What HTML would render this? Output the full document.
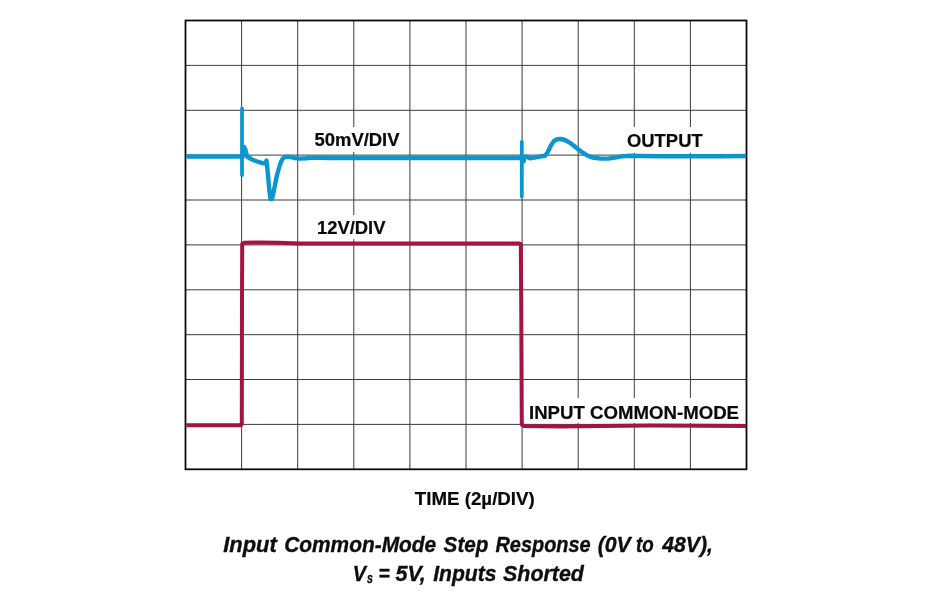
<!DOCTYPE html>
<html lang="en">
<head>
<meta charset="utf-8">
<title>Input Common-Mode Step Response</title>
<style>
html,body{margin:0;padding:0;background:#fff;}
body{width:950px;height:599px;overflow:hidden;position:relative;font-family:"Liberation Sans",sans-serif;}
svg{position:absolute;left:0;top:0;display:block;}
.lbl{font-family:"Liberation Sans",sans-serif;font-weight:bold;font-size:18.4px;fill:#0a0a0a;stroke:#0a0a0a;stroke-width:0.2px;}
.cap{font-family:"Liberation Sans",sans-serif;font-weight:bold;font-style:italic;font-size:21.6px;fill:#0e0e0e;stroke:#0e0e0e;stroke-width:0.35px;}
</style>
</head>
<body>
<svg width="950" height="599" viewBox="0 0 950 599">
<rect x="0" y="0" width="950" height="599" fill="#ffffff"/>
<g stroke="#3c3c3c" stroke-width="1" fill="none">
<line x1="241.6" y1="20.5" x2="241.6" y2="469.3"/>
<line x1="297.7" y1="20.5" x2="297.7" y2="469.3"/>
<line x1="353.8" y1="20.5" x2="353.8" y2="469.3"/>
<line x1="409.9" y1="20.5" x2="409.9" y2="469.3"/>
<line x1="466.0" y1="20.5" x2="466.0" y2="469.3"/>
<line x1="522.1" y1="20.5" x2="522.1" y2="469.3"/>
<line x1="578.2" y1="20.5" x2="578.2" y2="469.3"/>
<line x1="634.3" y1="20.5" x2="634.3" y2="469.3"/>
<line x1="690.4" y1="20.5" x2="690.4" y2="469.3"/>
<line x1="185.5" y1="65.4" x2="746.5" y2="65.4"/>
<line x1="185.5" y1="110.3" x2="746.5" y2="110.3"/>
<line x1="185.5" y1="155.1" x2="746.5" y2="155.1"/>
<line x1="185.5" y1="200.0" x2="746.5" y2="200.0"/>
<line x1="185.5" y1="244.9" x2="746.5" y2="244.9"/>
<line x1="185.5" y1="289.8" x2="746.5" y2="289.8"/>
<line x1="185.5" y1="334.7" x2="746.5" y2="334.7"/>
<line x1="185.5" y1="379.5" x2="746.5" y2="379.5"/>
<line x1="185.5" y1="424.4" x2="746.5" y2="424.4"/>
</g>
<!-- white label backings -->
<g fill="#ffffff">
<rect x="309" y="127" width="96" height="25"/>
<rect x="311" y="215" width="80" height="24"/>
<rect x="621" y="127" width="88" height="26"/>
<rect x="525" y="398" width="219" height="25"/>
</g>
<rect x="185.5" y="20.5" width="561.0" height="448.8" fill="none" stroke="#0c0c0c" stroke-width="1.8"/>
<!-- output trace -->
<g fill="none" stroke="#0c96cf" stroke-linejoin="round" stroke-linecap="butt">
<path d="M186.5,156.5 L241,156.5 L243,156 L244,147 L245.5,150 L247,156.5 L252,159.5 L258,161.8 L263,163.2 L265.5,163.5 L266.5,160.5 L267.5,170 L269.5,192 L270.5,199 L272,199 L274,190 L277,175 L280,164.5 L282.5,158.8 L285,157 L289,156.6 L294,158 L300,158.6 L306,158.3 L312,157.6 L330,158 L420,158 L500,158 L520,158 L523,158 L526,156.5 L530,158.3 L536,157.3 L541,156.3 L545,155.8 L547.5,152.5 L551,145.3 L554,141 L557,139.2 L561,139 L565,140 L570,142.8 L576,147.5 L582,152.2 L588,155.8 L594,157.8 L601,158.6 L608,158.6 L615,157.6 L622,156.4 L630,155.8 L640,156 L660,156.3 L690,156.3 L720,156.2 L746,156" stroke-width="4.4"/>
<path d="M242,108.5 L242,175" stroke-width="3.8" stroke-linecap="round"/>
<ellipse cx="523" cy="159.3" rx="2.2" ry="3.4" fill="#0c96cf" stroke-width="2"/>
<path d="M521.8,142 L521.8,196.5" stroke-width="3.8" stroke-linecap="round"/>
</g>
<!-- input common-mode trace -->
<path d="M186.5,425.3 L241,425.3 L241.8,424 L242,300 L242.2,244 L244,242.8 L260,242.5 L278,242.8 L300,243.4 L400,243.4 L519,243.5 L520.8,244 L521.2,300 L521.8,424.5 L524,426 L560,426.4 L600,426 L650,425.6 L700,425.8 L746,426" fill="none" stroke="#a51343" stroke-width="4" stroke-linejoin="round"/>
<text class="lbl" x="314.5" y="145.6" textLength="85" lengthAdjust="spacingAndGlyphs">50mV/DIV</text>
<text class="lbl" x="317" y="233.6" textLength="68.5" lengthAdjust="spacingAndGlyphs">12V/DIV</text>
<text class="lbl" x="627" y="146.7" textLength="75.7" lengthAdjust="spacingAndGlyphs">OUTPUT</text>
<text class="lbl" x="529" y="419" textLength="210" lengthAdjust="spacingAndGlyphs">INPUT COMMON-MODE</text>
<text class="lbl" x="414.8" y="504.5" textLength="120" lengthAdjust="spacingAndGlyphs">TIME (2µ/DIV)</text>
<text class="cap" x="223.20" y="552" textLength="53.55" lengthAdjust="spacingAndGlyphs">Input</text>
<text class="cap" x="284.20" y="552" textLength="151.99" lengthAdjust="spacingAndGlyphs">Common-Mode</text>
<text class="cap" x="443.60" y="552" textLength="44.79" lengthAdjust="spacingAndGlyphs">Step</text>
<text class="cap" x="495.40" y="552" textLength="95.29" lengthAdjust="spacingAndGlyphs">Response</text>
<text class="cap" x="597.70" y="552" textLength="33.08" lengthAdjust="spacingAndGlyphs">(0V</text>
<text class="cap" x="635.90" y="552" textLength="17.68" lengthAdjust="spacingAndGlyphs">to</text>
<text class="cap" x="662.17" y="552" textLength="50.83" lengthAdjust="spacingAndGlyphs">48V),</text>
<text class="cap" x="352.80" y="581" textLength="13.29" lengthAdjust="spacingAndGlyphs">V</text>
<text class="cap" x="378.50" y="581" textLength="11.28" lengthAdjust="spacingAndGlyphs">=</text>
<text class="cap" x="395.50" y="581" textLength="30.28" lengthAdjust="spacingAndGlyphs">5V,</text>
<text class="cap" x="433.20" y="581" textLength="63.29" lengthAdjust="spacingAndGlyphs">Inputs</text>
<text class="cap" x="503.10" y="581" textLength="80.78" lengthAdjust="spacingAndGlyphs">Shorted</text>
<text class="cap" x="367.10" y="583" textLength="5.91" lengthAdjust="spacingAndGlyphs" style="font-size:14px">s</text>
</svg>
</body>
</html>
